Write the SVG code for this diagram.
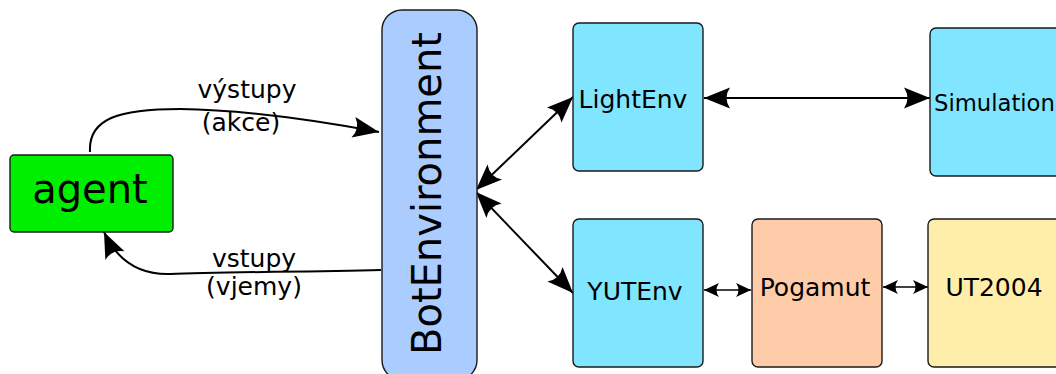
<svg xmlns="http://www.w3.org/2000/svg" width="1056" height="374" viewBox="0 0 1056 374">
  <style>
    .box { stroke: #1a1a1a; stroke-width: 1.4; }
    .lbl { font-family: "DejaVu Sans", sans-serif; fill: #000; }
    .wire { fill: none; stroke: #000; stroke-width: 2; }
    .thin { fill: none; stroke: #000; stroke-width: 1.6; }
  </style>
  <defs>
    <!-- concave arrowheads, tip at the origin -->
    <marker id="headL" markerUnits="userSpaceOnUse" viewBox="-27 -12 28 24" refX="0" refY="0" markerWidth="28" markerHeight="24" orient="auto-start-reverse">
      <path d="M0,0 L-26,-10.5 Q-19,0 -26,10.5 Z" fill="#000"/>
    </marker>
    <marker id="headS" markerUnits="userSpaceOnUse" viewBox="-16 -8 17 16" refX="0" refY="0" markerWidth="17" markerHeight="16" orient="auto-start-reverse">
      <path d="M0,0 L-15,-7 Q-10,0 -15,7 Z" fill="#000"/>
    </marker>
  </defs>

  <g id="connectors">
    <!-- agent to BotEnvironment -->
    <path class="wire" d="M90,152 C88,118 120,109 180,109 C 250,110 320,121 379,132" marker-end="url(#headL)"/>
    <!-- BotEnvironment back to agent -->
    <path class="wire" d="M381,270 C 300,272 220,272 170,274 C 136,275 116,258 104,232" marker-end="url(#headL)"/>
    <!-- BotEnvironment to LightEnv / YUTEnv -->
    <line class="wire" x1="476" y1="190" x2="573" y2="97" marker-start="url(#headL)" marker-end="url(#headL)"/>
    <line class="wire" x1="476" y1="192" x2="573" y2="293" marker-start="url(#headL)" marker-end="url(#headL)"/>
    <!-- LightEnv to Simulation -->
    <line class="wire" x1="704" y1="98" x2="930" y2="98" marker-start="url(#headL)" marker-end="url(#headL)"/>
    <!-- YUTEnv / Pogamut / UT2004 -->
    <line class="thin" x1="704" y1="290" x2="751" y2="290" marker-start="url(#headS)" marker-end="url(#headS)"/>
    <line class="thin" x1="883" y1="287" x2="928" y2="287" marker-start="url(#headS)" marker-end="url(#headS)"/>
    <!-- connector labels -->
    <text class="lbl" x="247" y="98" font-size="25" text-anchor="middle">výstupy</text>
    <text class="lbl" x="241" y="131" font-size="25" text-anchor="middle">(akce)</text>
    <text class="lbl" x="254" y="267" font-size="25" text-anchor="middle">vstupy</text>
    <text class="lbl" x="254" y="295" font-size="25" text-anchor="middle">(vjemy)</text>
  </g>

  <g id="agent">
    <rect class="box" x="10" y="155" width="163" height="77" rx="4" fill="#00ee00"/>
    <text class="lbl" x="90" y="203" font-size="40" text-anchor="middle">agent</text>
  </g>

  <g id="botenvironment">
    <rect class="box" x="382" y="10" width="95" height="370" rx="20" fill="#aaccff"/>
    <text class="lbl" transform="translate(441,193.5) rotate(-90)" font-size="40" text-anchor="middle">BotEnvironment</text>
  </g>

  <g id="lightenv">
    <rect class="box" x="573" y="23" width="130" height="148" rx="6" fill="#80e5ff"/>
    <text class="lbl" x="633" y="108" font-size="25" text-anchor="middle">LightEnv</text>
  </g>

  <g id="simulation">
    <rect class="box" x="930" y="28" width="135" height="148" rx="6" fill="#80e5ff"/>
    <text class="lbl" x="934" y="111" font-size="22.7">Simulation</text>
  </g>

  <g id="yutenv">
    <rect class="box" x="573" y="219" width="130" height="148" rx="6" fill="#80e5ff"/>
    <text class="lbl" x="635" y="300" font-size="25" text-anchor="middle">YUTEnv</text>
  </g>

  <g id="pogamut">
    <rect class="box" x="752" y="219" width="130" height="148" rx="6" fill="#ffccaa"/>
    <text class="lbl" x="815" y="296" font-size="25" text-anchor="middle">Pogamut</text>
  </g>

  <g id="ut2004">
    <rect class="box" x="928" y="219" width="135" height="148" rx="6" fill="#ffeeaa"/>
    <text class="lbl" x="994" y="296" font-size="25" text-anchor="middle">UT2004</text>
  </g>
</svg>
